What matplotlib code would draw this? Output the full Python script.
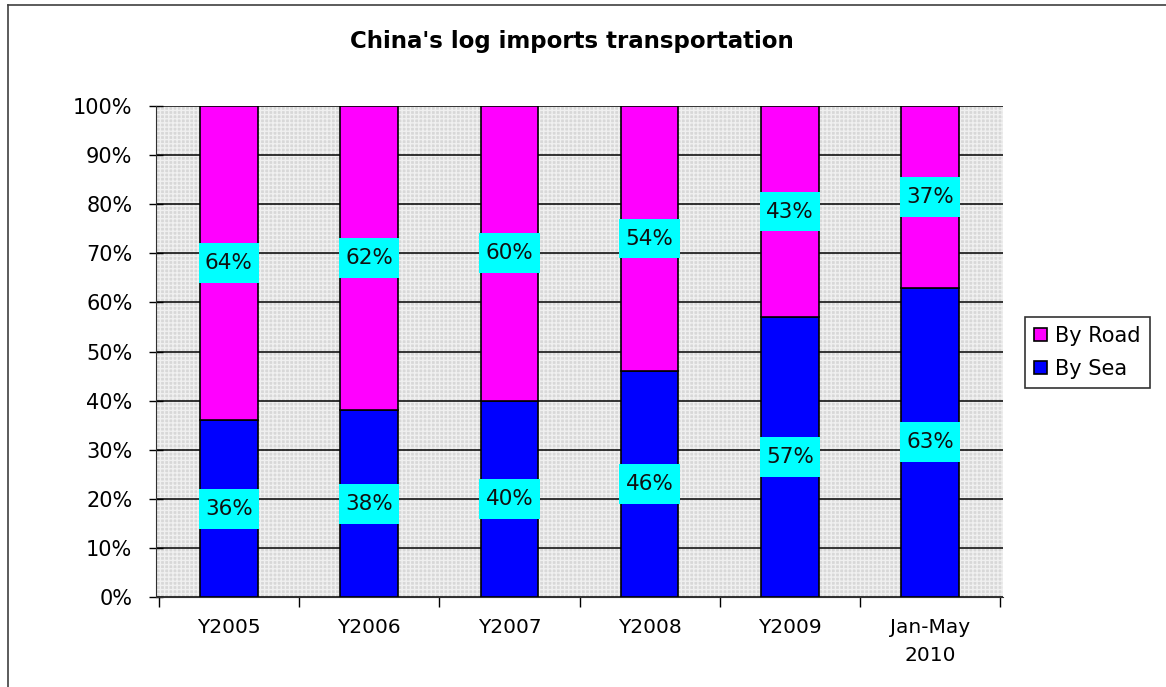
import matplotlib
matplotlib.use("Agg")
import matplotlib.pyplot as plt
from matplotlib.lines import Line2D

# Data
categories = ["Y2005", "Y2006", "Y2007", "Y2008", "Y2009", "Jan-May\n2010"]
by_sea = [36, 38, 40, 46, 57, 63]
by_road = [64, 62, 60, 54, 43, 37]

sea_color = "#0000ff"
road_color = "#ff00ff"
label_bg = "#00ffff"

plt.rcParams["font.family"] = "DejaVu Sans"

fig = plt.figure(figsize=(11.66, 6.87), dpi=100)
ax = fig.add_axes([0.1338, 0.131, 0.7264, 0.7147])

# Light grey speckled plot area
ax.set_facecolor("#d8d8d8")
ax.patch.set_hatch("++++")
ax.patch.set_edgecolor("#f0f0f0")
ax.patch.set_linewidth(0)

x = list(range(len(categories)))
bar_w = 0.41

ax.bar(x, by_sea, width=bar_w, color=sea_color, edgecolor="black", linewidth=1.2, zorder=3, label="By Sea")
ax.bar(x, by_road, width=bar_w, bottom=by_sea, color=road_color, edgecolor="black", linewidth=1.2, zorder=3, label="By Road")

# Value labels in cyan boxes, centred on each segment
box_w = 0.43
box_h = 8.1
for i in x:
    sea_mid = by_sea[i] / 2
    road_mid = by_sea[i] + by_road[i] / 2
    for mid, val in [(sea_mid, by_sea[i]), (road_mid, by_road[i])]:
        ax.bar(i, box_h, width=box_w, bottom=mid - box_h / 2, color=label_bg, linewidth=0, zorder=4)
        ax.text(i, mid, f"{val}%", ha="center", va="center", fontsize=15.5, color="#101010", zorder=5)

# Horizontal gridlines
ax.set_ylim(0, 100)
ax.set_yticks(range(0, 101, 10))
ax.set_yticklabels([f"{v}%" for v in range(0, 101, 10)], fontsize=15)
ax.yaxis.grid(True, color="black", linewidth=1.1, zorder=1)
ax.set_axisbelow(True)

ax.set_xlim(-0.52, 5.52)
ax.set_xticks([v - 0.5 for v in range(len(categories) + 1)])
ax.set_xticklabels([])
ax.tick_params(axis="x", direction="out", length=7, width=1)
ax.tick_params(axis="y", direction="inout", length=10, width=1, pad=12)
for i, name in enumerate(categories):
    ax.text(i, -4.2, name, ha="center", va="top", fontsize=14.5, linespacing=1.6, transform=ax.transData)

for side in ["top", "right"]:
    ax.spines[side].set_visible(False)
ax.spines["left"].set_color("#303030")
ax.spines["bottom"].set_color("#303030")

fig.text(0.4906, 0.94, "China's log imports transportation", ha="center", va="center",
         fontsize=16.5, fontweight="bold")

handles, labels = ax.get_legend_handles_labels()
leg = fig.legend(handles[::-1], labels[::-1], loc="center left", bbox_to_anchor=(0.879, 0.487),
                 fontsize=15, frameon=True, fancybox=False, edgecolor="black",
                 handlelength=0.6, handleheight=0.6, handletextpad=0.4, borderpad=0.45,
                 labelspacing=0.6, borderaxespad=0)
leg.get_frame().set_linewidth(1.2)

# Chart border
fig.add_artist(Line2D([0.0069, 0.0069], [0, 0.9927], color="#404040", linewidth=1.2))
fig.add_artist(Line2D([0.0069, 1], [0.9927, 0.9927], color="#404040", linewidth=1.2))

fig.savefig("out.png", dpi=100)
